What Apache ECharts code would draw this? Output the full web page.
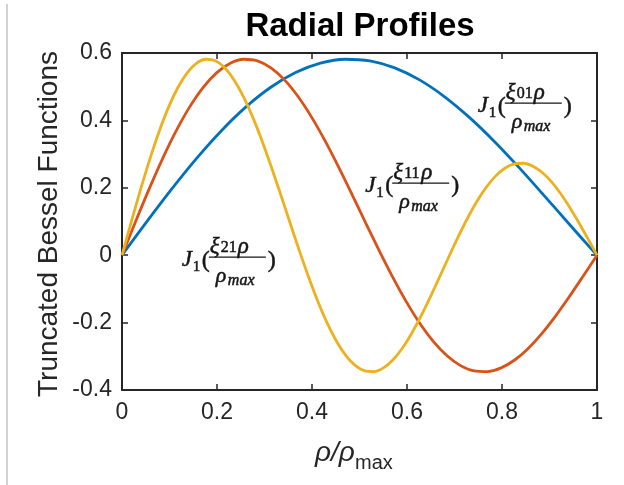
<!DOCTYPE html>
<html>
<head>
<meta charset="utf-8">
<script src="https://cdn.jsdelivr.net/npm/echarts@6/dist/echarts.min.js"></script>
<style>
html,body{margin:0;padding:0;background:#fff;}
#c{width:624px;height:485px;}
</style>
</head>
<body>
<div id="c"></div>
<script>
// ---- data ----
const xTickLabels = ['0', '0.2', '0.4', '0.6', '0.8', '1'];
const yTickLabels = ['-0.4', '-0.2', '0', '0.2', '0.4', '0.6'];

const rhoJ01 = [0,0.0522,0.1044,0.1566,0.2088,0.2610,0.3132,0.3654,0.4176,0.4698,0.5220,0.5742,0.6264,0.6785,0.7307,0.7829,0.8351,0.8873,0.9395,0.9917,1];
const valJ01 = [0,0.0995,0.1960,0.2867,0.3688,0.4401,0.4983,0.5419,0.5699,0.5815,0.5767,0.5560,0.5202,0.4708,0.4097,0.3391,0.2613,0.1792,0.0955,0.0128,0];

const rhoJ11 = [0,0.0285,0.0570,0.0855,0.1140,0.1425,0.1710,0.1996,0.2281,0.2566,0.2851,0.3136,0.3421,0.3706,0.3991,0.4276,0.4561,0.4846,0.5131,0.5417,0.5702,0.5987,0.6272,0.6557,0.6842,0.7127,0.7412,0.7697,0.7982,0.8267,0.8552,0.8837,0.9123,0.9408,0.9693,1];
const valJ11 = [0,0.0995,0.1960,0.2867,0.3688,0.4401,0.4983,0.5419,0.5699,0.5815,0.5767,0.5560,0.5202,0.4708,0.4097,0.3391,0.2613,0.1792,0.0955,0.0128,-0.0660,-0.1386,-0.2028,-0.2566,-0.2985,-0.3276,-0.3432,-0.3453,-0.3343,-0.3110,-0.2767,-0.2329,-0.1816,-0.1250,-0.0652,0];

const rhoJ21 = [0,0.0197,0.0393,0.0590,0.0786,0.0983,0.1180,0.1376,0.1573,0.1769,0.1966,0.2162,0.2359,0.2556,0.2752,0.2949,0.3145,0.3342,0.3539,0.3735,0.3932,0.4128,0.4325,0.4522,0.4718,0.4915,0.5111,0.5308,0.5505,0.5701,0.5898,0.6094,0.6291,0.6487,0.6684,0.6881,0.7077,0.7274,0.7470,0.7667,0.7864,0.8060,0.8257,0.8453,0.8650,0.8847,0.9043,0.9240,0.9436,0.9633,0.9830,1];
const valJ21 = [0,0.0995,0.1960,0.2867,0.3688,0.4401,0.4983,0.5419,0.5699,0.5815,0.5767,0.5560,0.5202,0.4708,0.4097,0.3391,0.2613,0.1792,0.0955,0.0128,-0.0660,-0.1386,-0.2028,-0.2566,-0.2985,-0.3276,-0.3432,-0.3453,-0.3343,-0.3110,-0.2767,-0.2329,-0.1816,-0.1250,-0.0652,-0.0047,0.0543,0.1096,0.1592,0.2014,0.2346,0.2580,0.2708,0.2728,0.2641,0.2453,0.2174,0.1816,0.1395,0.0928,0.0435,0];

// annotation anchors (data coords: left edge of "J", fraction-bar height)
const annoSub = ['01', '11', '21'];
const annoPos = [[0.749, 0.451], [0.512, 0.214], [0.126, -0.006]];

const AX = '#262626';
const SANS = '"Liberation Sans", Arial, Helvetica, sans-serif';
const SERIF = '"Liberation Serif", "Times New Roman", serif';

const chart = echarts.init(document.getElementById('c'), null, {renderer: 'canvas'});

const zip = (a, b) => a.map((v, i) => [v, b[i]]);

function frameAxis(pos, isX) {
  return {
    type: 'value', position: pos, min: isX ? 0 : -0.4, max: isX ? 1 : 0.6, interval: 0.2,
    axisLine: {show: true, onZero: false, lineStyle: {color: AX, width: 2}},
    axisTick: {show: true, inside: true, length: 6, lineStyle: {color: AX, width: 1.5}},
    axisLabel: {show: false}, splitLine: {show: false}
  };
}

const option = {
  animation: false,
  backgroundColor: '#fff',
  grid: {left: 122, right: 27, top: 53, bottom: 95},
  xAxis: [
    {
      type: 'value', position: 'bottom', min: 0, max: 1, interval: 0.2,
      axisLine: {show: true, onZero: false, lineStyle: {color: AX, width: 2}},
      axisTick: {show: true, inside: true, length: 6, lineStyle: {color: AX, width: 1.5}},
      axisLabel: {show: true, margin: 11, color: AX, fontSize: 23, fontFamily: SANS,
        formatter: (v, i) => xTickLabels[i]},
      splitLine: {show: false}
    },
    frameAxis('top', true)
  ],
  yAxis: [
    {
      type: 'value', position: 'left', min: -0.4, max: 0.6, interval: 0.2,
      axisLine: {show: true, onZero: false, lineStyle: {color: AX, width: 2}},
      axisTick: {show: true, inside: true, length: 6, lineStyle: {color: AX, width: 1.5}},
      axisLabel: {show: true, margin: 10, color: AX, fontSize: 23, fontFamily: SANS,
        formatter: (v, i) => yTickLabels[i]},
      splitLine: {show: false}
    },
    frameAxis('right', false)
  ],
  series: [
    {type: 'line', name: 'J01', data: zip(rhoJ01, valJ01), xAxisIndex: 0, yAxisIndex: 0,
      showSymbol: false, smooth: 0.3, lineStyle: {color: '#0072BD', width: 2.8}, itemStyle: {color: '#0072BD'}},
    {type: 'line', name: 'J11', data: zip(rhoJ11, valJ11), xAxisIndex: 0, yAxisIndex: 0,
      showSymbol: false, smooth: 0.3, lineStyle: {color: '#D95319', width: 2.8}, itemStyle: {color: '#D95319'}},
    {type: 'line', name: 'J21', data: zip(rhoJ21, valJ21), xAxisIndex: 0, yAxisIndex: 0,
      showSymbol: false, smooth: 0.3, lineStyle: {color: '#EDB120', width: 2.8}, itemStyle: {color: '#EDB120'}}
  ]
};
chart.setOption(option);

function fracLabel(sub, px, py) {
  const c = '#161616';
  const sw = 0.5;
  const st = (font, text, extra) => Object.assign({text: text, font: font, fill: c, stroke: c, lineWidth: sw, verticalAlign: 'middle', align: 'left'}, extra || {});
  return {
    type: 'group', x: px, y: py, z: 100,
    children: [
      {type: 'text', x: 0, y: 3, style: st('italic 23px ' + SERIF, 'J')},
      {type: 'text', x: 11, y: 10, style: st('15px ' + SERIF, '1')},
      {type: 'text', x: 20, y: 3, style: st('24px ' + SERIF, '(')},
      {type: 'text', x: 28, y: -10, style: st('italic 23px ' + SERIF, 'ξ')},
      {type: 'text', x: 39, y: -9, style: st('16px ' + SERIF, sub)},
      {type: 'text', x: 56, y: -10, style: st('italic 23px ' + SERIF, 'ρ')},
      {type: 'line', shape: {x1: 27, y1: 0, x2: 84, y2: 0}, style: {stroke: c, lineWidth: 1.3}},
      {type: 'text', x: 34, y: 19, style: st('italic 22px ' + SERIF, 'ρ')},
      {type: 'text', x: 46, y: 24, style: st('italic 16px ' + SERIF, 'max')},
      {type: 'text', x: 86, y: 3, style: st('24px ' + SERIF, ')')}
    ]
  };
}

const graphics = [
  {type: 'line', shape: {x1: 7, y1: 4, x2: 7, y2: 485}, style: {stroke: '#d4d4d4', lineWidth: 2}},
  {type: 'text', x: 360, y: 27, style: {text: 'Radial Profiles', font: 'bold 33px ' + SANS, fill: '#000', align: 'center', verticalAlign: 'middle'}},
  {type: 'text', x: 49, y: 224, rotation: Math.PI / 2, style: {text: 'Truncated Bessel Functions', font: '28px ' + SANS, fill: AX, align: 'center', verticalAlign: 'middle'}},
  {type: 'text', x: 315, y: 453, style: {text: 'ρ/ρ', font: 'italic 28px ' + SANS, fill: AX, align: 'left', verticalAlign: 'middle'}},
  {type: 'text', x: 355, y: 463, style: {text: 'max', font: '20px ' + SANS, fill: AX, align: 'left', verticalAlign: 'middle'}}
];
annoPos.forEach((p, i) => {
  const px = chart.convertToPixel({gridIndex: 0}, p);
  graphics.push(fracLabel(annoSub[i], px[0], px[1]));
});
chart.setOption({graphic: graphics});
</script>
</body>
</html>
